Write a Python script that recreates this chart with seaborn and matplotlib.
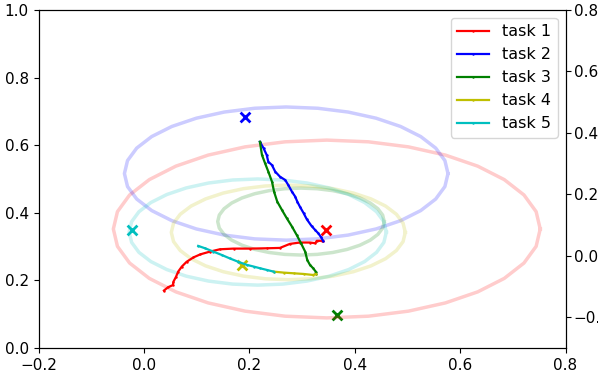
import numpy as np
import pandas as pd
import matplotlib
matplotlib.use("Agg")
import matplotlib.pyplot as plt
import seaborn as sns

# trajectories of each task
task_names = ["task 1", "task 2", "task 3", "task 4", "task 5"]
task_colors = ["r", "b", "g", "y", "c"]

x_task1 = [0.038, 0.046, 0.055, 0.056, 0.061, 0.065, 0.072, 0.081, 0.094, 0.107, 0.125, 0.144,
           0.170, 0.201, 0.233, 0.258, 0.277, 0.296, 0.315, 0.325, 0.328, 0.338, 0.340]
y_task1 = [0.170, 0.180, 0.186, 0.196, 0.211, 0.226, 0.241, 0.255, 0.268, 0.277, 0.285, 0.292,
           0.294, 0.294, 0.295, 0.296, 0.308, 0.312, 0.312, 0.310, 0.317, 0.317, 0.317]
x_task2 = [0.340, 0.336, 0.331, 0.325, 0.318, 0.309, 0.303, 0.296, 0.291, 0.287, 0.281,
           0.274, 0.268, 0.258, 0.249, 0.243, 0.236, 0.233, 0.227, 0.220]
y_task2 = [0.317, 0.328, 0.339, 0.349, 0.361, 0.381, 0.399, 0.418, 0.433, 0.448, 0.462,
           0.482, 0.497, 0.507, 0.522, 0.541, 0.551, 0.571, 0.591, 0.610]
x_task3 = [0.220, 0.224, 0.230, 0.236, 0.243, 0.247, 0.253, 0.262, 0.271, 0.281, 0.290,
           0.298, 0.306, 0.310, 0.315, 0.321, 0.326, 0.326]
y_task3 = [0.610, 0.571, 0.546, 0.522, 0.492, 0.462, 0.433, 0.408, 0.384, 0.359, 0.334,
           0.310, 0.285, 0.260, 0.246, 0.236, 0.226, 0.219]
x_task4 = [0.326, 0.321, 0.303, 0.284, 0.265, 0.246]
y_task4 = [0.219, 0.216, 0.219, 0.221, 0.223, 0.226]
x_task5 = [0.246, 0.233, 0.220, 0.208, 0.195, 0.179, 0.163, 0.148, 0.132, 0.116, 0.103]
y_task5 = [0.226, 0.231, 0.236, 0.241, 0.246, 0.255, 0.265, 0.275, 0.285, 0.295, 0.302]

# x marks
mark_x = [0.346, 0.191, 0.367, 0.186, -0.023]
mark_y = [0.349, 0.683, 0.098, 0.246, 0.349]

# ellipses: center and half axes
ell_cx = [0.347, 0.270, 0.298, 0.274, 0.216]
ell_cy = [0.352, 0.516, 0.374, 0.342, 0.343]
ell_rx = [0.405, 0.307, 0.158, 0.222, 0.244]
ell_ry = [0.263, 0.197, 0.099, 0.140, 0.157]

xs = [x_task1, x_task2, x_task3, x_task4, x_task5]
ys = [y_task1, y_task2, y_task3, y_task4, y_task5]

plt.rcParams["font.size"] = 11
plt.rcParams["legend.fontsize"] = 11.5

fig = plt.figure(figsize=(5.98, 3.76), dpi=100)
ax = fig.add_axes([0.0644, 0.0745, 0.8813, 0.899])

t = np.linspace(0, 2 * np.pi, 33)
for i in range(5):
    ell = pd.DataFrame({"x": ell_cx[i] + ell_rx[i] * np.cos(t),
                        "y": ell_cy[i] + ell_ry[i] * np.sin(t)})
    sns.lineplot(data=ell, x="x", y="y", sort=False, estimator=None, color=task_colors[i],
                 alpha=0.2, linewidth=2.5, ax=ax, legend=False)

for i in range(5):
    df = pd.DataFrame({"x": xs[i], "y": ys[i]})
    sns.lineplot(data=df, x="x", y="y", sort=False, estimator=None, color=task_colors[i],
                 marker=".", markersize=3.5, markeredgewidth=0, linewidth=1.6,
                 label=task_names[i], ax=ax)

for i in range(5):
    sns.scatterplot(x=[mark_x[i]], y=[mark_y[i]], marker="x", color=task_colors[i],
                    s=50, linewidth=2, ax=ax, legend=False)

ax.set_xlim(-0.2, 0.8)
ax.set_ylim(0, 1.0)
ax.set_xlabel("")
ax.set_ylabel("")
ax.legend(loc="upper right")

ax2 = ax.twinx()
ax2.set_ylim(-0.3, 0.8)
ax2.tick_params(axis="y", pad=2.5)

fig.savefig("out.png", dpi=100)
